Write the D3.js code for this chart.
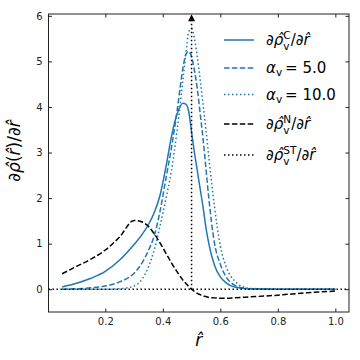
<!DOCTYPE html>
<html>
<head>
<meta charset="utf-8">
<script src="https://cdn.jsdelivr.net/npm/d3@7"></script>
<style>
  body { margin: 0; background: #fff; }
  text { font-family: "DejaVu Sans", sans-serif; }
</style>
</head>
<body>
<div class="chart"></div>
<script>
// r-hat grid shared by all curves
const rHat = [0.05, 0.10, 0.15, 0.20, 0.25, 0.30, 0.33, 0.35, 0.37, 0.39, 0.41, 0.43, 0.45, 0.47, 0.48, 0.49,
  0.50, 0.51, 0.52, 0.53, 0.54, 0.55, 0.56, 0.58, 0.60, 0.62, 0.65, 0.70, 0.80, 0.90, 1.00];

const dRhoC = [0.05, 0.13, 0.24, 0.39, 0.64, 0.98, 1.22, 1.42, 1.68, 2.05, 2.65, 3.35, 3.85, 4.08, 4.06, 3.90,
  3.45, 3.00, 2.60, 2.20, 1.80, 1.35, 1.00, 0.52, 0.27, 0.14, 0.05, 0.01, 0.00, 0.00, 0.00];
const dRhoA5 = [0.00, 0.01, 0.03, 0.07, 0.16, 0.35, 0.60, 0.85, 1.17, 1.70, 2.40, 3.10, 3.93, 4.85, 5.15, 5.22,
  5.10, 4.80, 4.40, 3.85, 3.30, 2.65, 2.00, 1.00, 0.55, 0.27, 0.09, 0.01, 0.00, 0.00, 0.00];
const dRhoA10 = [0.00, 0.00, 0.00, 0.00, 0.01, 0.07, 0.24, 0.49, 0.86, 1.38, 1.96, 2.60, 3.50, 4.60, 5.15, 5.65,
  5.72, 5.50, 5.10, 4.60, 4.05, 3.50, 2.90, 1.80, 0.95, 0.50, 0.18, 0.02, 0.00, 0.00, 0.00];
const dRhoN = [0.34, 0.50, 0.66, 0.86, 1.15, 1.51, 1.47, 1.38, 1.22, 1.02, 0.80, 0.58, 0.38, 0.20, 0.13, 0.06,
  0.00, -0.05, -0.09, -0.12, -0.15, -0.16, -0.18, -0.19, -0.20, -0.20, -0.19, -0.17, -0.13, -0.08, -0.04];

// step-function derivative: zero line plus a delta spike at r = 0.5
const stepR = 0.5;
const stepTop = 6.0;

const xTicks = [0.2, 0.4, 0.6, 0.8, 1.0];
const yTicks = [0, 1, 2, 3, 4, 5, 6];

const margin = { top: 14, right: 11, bottom: 48, left: 48.5 };
const width = 360 - margin.left - margin.right;
const height = 360 - margin.top - margin.bottom;

const blue = '#1f77b4';

const svg = d3.select('.chart')
  .append('svg')
  .attr('width', 360)
  .attr('height', 360)
  .append('g')
  .attr('transform', `translate(${margin.left}, ${margin.top})`);

const xScale = d3.scaleLinear().domain([0.0025, 1.0475]).range([0, width]);
const yScale = d3.scaleLinear().domain([-0.5, 6.04]).range([height, 0]);

svg.append('defs').append('clipPath').attr('id', 'clip')
  .append('rect').attr('width', width).attr('height', height);

const plot = svg.append('g').attr('clip-path', 'url(#clip)');

const line = d3.line()
  .x(d => xScale(d[0]))
  .y(d => yScale(d[1]))
  .curve(d3.curveMonotoneX);

const series = [
  { y: dRhoC, color: blue, dash: null },
  { y: dRhoA5, color: blue, dash: '5.5,2.4' },
  { y: dRhoA10, color: blue, dash: '1.5,2.5' },
  { y: dRhoN, color: '#000', dash: '5.5,2.4' }
];

series.forEach(s => {
  plot.append('path')
    .datum(rHat.map((r, i) => [r, s.y[i]]))
    .attr('d', line)
    .attr('fill', 'none')
    .attr('stroke', s.color)
    .attr('stroke-width', 1.5)
    .attr('stroke-dasharray', s.dash);
});

// ST: zero line across the axes and the vertical arrow
plot.append('line')
  .attr('x1', 0).attr('x2', width)
  .attr('y1', yScale(0)).attr('y2', yScale(0))
  .attr('stroke', '#000').attr('stroke-width', 1.5)
  .attr('stroke-dasharray', '1.5,2.5');

plot.append('line')
  .attr('x1', xScale(stepR)).attr('x2', xScale(stepR))
  .attr('y1', yScale(0)).attr('y2', yScale(stepTop) + 5)
  .attr('stroke', '#000').attr('stroke-width', 1.5)
  .attr('stroke-dasharray', '1.5,2.5');

const ax = xScale(stepR), ay = yScale(stepTop);
svg.append('path')
  .attr('d', `M${ax},${ay - 1.5} L${ax - 3.5},${ay + 5.5} L${ax + 3.5},${ay + 5.5} Z`)
  .attr('fill', '#000');

// axes, ticks inward on all four sides
const axisColor = '#222';
const xAxis = d3.axisBottom(xScale).tickValues(xTicks).tickSizeInner(-3.5).tickSizeOuter(0)
  .tickPadding(6).tickFormat(d3.format('.1f'));
const yAxis = d3.axisLeft(yScale).tickValues(yTicks).tickSizeInner(-3.5).tickSizeOuter(0)
  .tickPadding(6).tickFormat(d3.format('d'));

svg.append('g').attr('transform', `translate(0, ${height})`).call(xAxis);
svg.append('g').call(yAxis);
svg.append('g').call(d3.axisTop(xScale).tickValues(xTicks).tickSizeInner(-3.5).tickSizeOuter(0).tickFormat(''));
svg.append('g').attr('transform', `translate(${width}, 0)`)
  .call(d3.axisRight(yScale).tickValues(yTicks).tickSizeInner(-3.5).tickSizeOuter(0).tickFormat(''));

svg.selectAll('.domain').remove();
svg.selectAll('.tick line').attr('stroke', axisColor);
svg.selectAll('.tick text').attr('fill', axisColor).style('font-size', '10px')
  .style('font-family', '"DejaVu Sans", sans-serif');

svg.append('rect')
  .attr('width', width).attr('height', height)
  .attr('fill', 'none').attr('stroke', axisColor).attr('stroke-width', 1);

// axis labels
svg.append('text')
  .attr('x', width / 2).attr('y', height + 34)
  .attr('text-anchor', 'middle')
  .style('font-size', '17px').style('font-style', 'italic')
  .text('r\u0302');

const yl = svg.append('text')
  .attr('transform', `translate(${20 - margin.left}, ${151 - margin.top}) rotate(-90)`)
  .attr('text-anchor', 'middle')
  .style('font-size', '17px');
yl.append('tspan').text('\u2202');
yl.append('tspan').style('font-style', 'italic').text('\u03c1\u0302');
yl.append('tspan').text('(');
yl.append('tspan').style('font-style', 'italic').text('r\u0302');
yl.append('tspan').text(')/\u2202');
yl.append('tspan').style('font-style', 'italic').text('r\u0302');

// legend
const legendRows = [
  { color: blue, dash: null, y: 40, kind: 'deriv', sup: 'C' },
  { color: blue, dash: '5.5,2.4', y: 68, kind: 'alpha', val: '5.0' },
  { color: blue, dash: '1.5,2.5', y: 94.5, kind: 'alpha', val: '10.0' },
  { color: '#000', dash: '5.5,2.4', y: 124, kind: 'deriv', sup: 'N' },
  { color: '#000', dash: '1.5,2.5', y: 155, kind: 'deriv', sup: 'ST' }
];

const legend = svg.append('g').attr('transform', `translate(${-margin.left}, ${-margin.top})`);

legendRows.forEach(r => {
  legend.append('line')
    .attr('x1', 224).attr('x2', 254)
    .attr('y1', r.y).attr('y2', r.y)
    .attr('stroke', r.color).attr('stroke-width', 1.5)
    .attr('stroke-dasharray', r.dash);

  const t = legend.append('text')
    .attr('x', 266).attr('y', r.y + 5)
    .style('font-size', '15px');

  if (r.kind === 'alpha') {
    t.append('tspan').style('font-style', 'italic').text('\u03b1');
    t.append('tspan').attr('dy', 3).style('font-size', '10.5px').text('v');
    t.append('tspan').attr('dy', -3).attr('dx', 3).text('= ' + r.val);
  } else {
    t.append('tspan').text('\u2202');
    t.append('tspan').style('font-style', 'italic').text('\u03c1\u0302');
    t.append('tspan').attr('dy', 4.5).style('font-size', '10.5px').text('v');
    t.append('tspan').attr('dy', -11).attr('dx', -6.2).style('font-size', '10.5px').text(r.sup);
    t.append('tspan').attr('dy', 6.5).text('/\u2202');
    t.append('tspan').style('font-style', 'italic').text('r\u0302');
  }
});
</script>
</body>
</html>
